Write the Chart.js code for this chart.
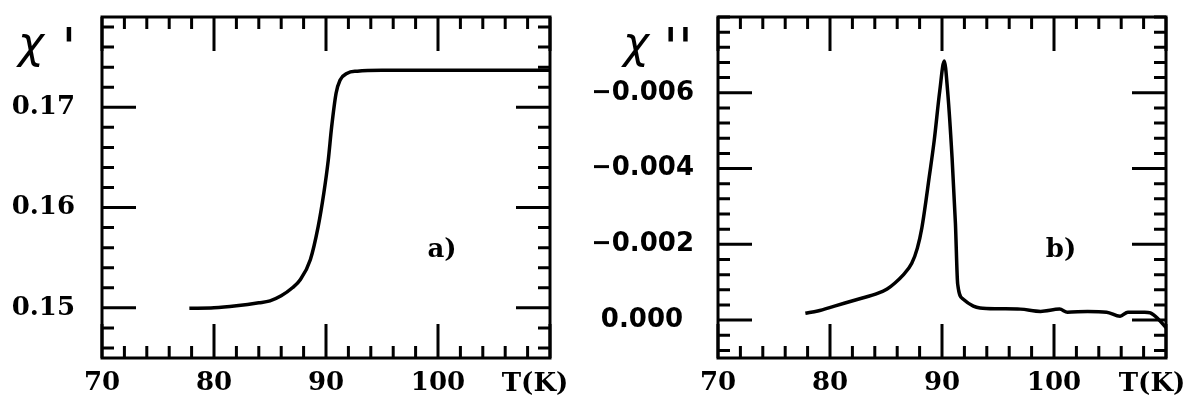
<!DOCTYPE html>
<html>
<head>
<meta charset="utf-8">
<script src="https://cdn.jsdelivr.net/npm/chart.js@4.4.1/dist/chart.umd.min.js"></script>
<style>
  body { margin: 0; background: #fff; }
  #wrap { position: relative; width: 1188px; height: 405px; }
  .panel { position: absolute; top: 0; width: 594px; height: 405px; }
</style>
</head>
<body>
<div id="wrap">
  <div class="panel" style="left:0"><canvas id="realChart" width="594" height="405"></canvas></div>
  <div class="panel" style="left:594px"><canvas id="imagChart" width="594" height="405"></canvas></div>
</div>
<script>
// a) real part chi' vs temperature
const tempA = [77.8, 80, 82, 84, 85, 86, 87, 87.7, 88.6, 89.3, 89.8, 90.2, 90.5, 90.9, 91.25, 91.9, 92.8, 95, 100, 105, 110];
const chiReal = [0.14995, 0.1500, 0.1502, 0.1505, 0.1507, 0.1512, 0.1520, 0.1528, 0.1548, 0.1581, 0.1614, 0.1647, 0.1680, 0.1714, 0.1727, 0.1734, 0.1736, 0.1737, 0.1737, 0.1737, 0.1737];

// b) imaginary part chi'' vs temperature
const tempB = [77.8, 78.9, 80.4, 82.5, 84.3, 85.1, 85.8, 86.5, 87.3, 87.8, 88.2, 88.9, 89.3, 89.8, 90.2, 90.5, 90.9, 91.2, 91.4, 91.9, 92.8, 93.4, 95, 97, 98.8, 100.5, 101.2, 103, 104.7, 105.9, 106.6, 108.1, 108.6, 109.3, 110];
const chiImag = [-0.00018, -0.00024, -0.00037, -0.00055, -0.00071, -0.00082, -0.00098, -0.00118, -0.00150, -0.00190, -0.00243, -0.00386, -0.00473, -0.00605, -0.00684, -0.00605, -0.00428, -0.00254, -0.00095, -0.00055, -0.00037, -0.00032, -0.00030, -0.00029, -0.00023, -0.00029, -0.00021, -0.00023, -0.00021, -0.00010, -0.00021, -0.00021, -0.00019, -0.00003, 0.00020];

// axis ticks and labels
const xTicks = [70, 80, 90, 100, 110];
const xLabels = ['70', '80', '90', '100', ''];
const yTicksA = [0.15, 0.16, 0.17];
const yLabelsA = ['0.15', '0.16', '0.17'];
const yTicksB = [-0.006, -0.004, -0.002, 0];
const yLabelsB = ['\u22120.006', '\u22120.004', '\u22120.002', '0.000'];

const serifBold = '"DejaVu Serif", serif';
const sansBold = '"DejaVu Sans", sans-serif';

// frame with inward major/minor ticks on all four sides, plus the loose texts
function frameTicks(xMinor, yMajor, yMinor, texts) {
    return {
        id: 'frameTicks',
        afterDraw(chart) {
            const { ctx, chartArea: a, scales } = chart;
            const xs = scales.x, ys = scales.y;
            ctx.save();
            ctx.strokeStyle = '#000';
            ctx.lineWidth = 3;
            ctx.lineCap = 'butt';
            ctx.beginPath();
            xMinor.forEach(v => {
                const len = xTicks.includes(v) ? 34 : 12;
                const px = xs.getPixelForValue(v);
                ctx.moveTo(px, a.bottom); ctx.lineTo(px, a.bottom - len);
                ctx.moveTo(px, a.top); ctx.lineTo(px, a.top + len);
            });
            yMinor.forEach(v => {
                const len = yMajor.some(m => Math.abs(m - v) < 1e-9) ? 34 : 12;
                const py = ys.getPixelForValue(v);
                ctx.moveTo(a.left, py); ctx.lineTo(a.left + len, py);
                ctx.moveTo(a.right, py); ctx.lineTo(a.right - len, py);
            });
            ctx.stroke();
            ctx.strokeRect(a.left, a.top, a.right - a.left, a.bottom - a.top);

            ctx.fillStyle = '#000';
            texts.forEach(t => {
                ctx.font = t.font;
                ctx.textAlign = t.align || 'center';
                ctx.textBaseline = t.baseline || 'middle';
                ctx.fillText(t.text, t.x, t.y);
            });
            ctx.restore();
        }
    };
}

function minorValues(kFrom, kTo, step) {
    const out = [];
    for (let k = kFrom; k <= kTo; k++) out.push(+(k * step).toFixed(6));
    return out;
}

const xMinorVals = minorValues(35, 55, 2);

function makeChart(id, temps, vals, yOpts, yWidth, padRight, plugin) {
    return new Chart(document.getElementById(id), {
        type: 'line',
        data: {
            datasets: [{
                data: temps.map((t, i) => ({ x: t, y: vals[i] })),
                borderColor: '#000',
                borderWidth: 3.5,
                pointRadius: 0,
                fill: false,
                cubicInterpolationMode: 'monotone'
            }]
        },
        options: {
            responsive: false,
            animation: false,
            layout: { padding: { top: 17, right: padRight, left: 0, bottom: 0 } },
            plugins: { legend: { display: false }, tooltip: { enabled: false } },
            scales: {
                x: {
                    type: 'linear',
                    min: 70,
                    max: 110,
                    grid: { display: false, drawTicks: false },
                    border: { display: false },
                    afterBuildTicks: s => { s.ticks = xTicks.map(v => ({ value: v })); },
                    afterFit: s => {
                        s.height = 47;
                        s.paddingLeft = 0;
                        s.paddingRight = 0;
                    },
                    ticks: {
                        autoSkip: false,
                        maxRotation: 0,
                        padding: 10,
                        color: '#000',
                        font: { family: serifBold, size: 26, weight: 'bold' },
                        callback: (v, i) => xLabels[i]
                    }
                },
                y: Object.assign({
                    grid: { display: false, drawTicks: false },
                    border: { display: false },
                    afterFit: s => {
                        s.width = yWidth;
                        // labels sit well inside the frame, no extra room needed
                        s.paddingTop = 0;
                        s.paddingBottom = 0;
                    }
                }, yOpts)
            }
        },
        plugins: [plugin]
    });
}

makeChart('realChart', tempA, chiReal, {
    min: 0.145,
    max: 0.179,
    afterBuildTicks: s => { s.ticks = yTicksA.map(v => ({ value: v })); },
    ticks: {
        autoSkip: false,
        padding: 27,
        crossAlign: 'center',
        color: '#000',
        font: { family: serifBold, size: 26, weight: 'bold' },
        callback: (v, i) => yLabelsA[i]
    }
}, 102, 44, frameTicks(xMinorVals, yTicksA, minorValues(73, 89, 0.002), [
    { text: '\u03c7', x: 31, y: 58, font: 'italic 44px "DejaVu Sans"', baseline: 'alphabetic' },
    { text: "'", x: 69, y: 66, font: 'italic 54px "DejaVu Sans"', baseline: 'alphabetic' },
    { text: 'a)', x: 442, y: 250, font: 'bold 26px ' + serifBold },
    { text: 'T(K)', x: 535, y: 384, font: 'bold 26px ' + serifBold }
]));

makeChart('imagChart', tempB, chiImag, {
    min: -0.008,
    max: 0.001,
    reverse: true,
    afterBuildTicks: s => { s.ticks = yTicksB.map(v => ({ value: v })); },
    ticks: {
        autoSkip: false,
        padding: 24,
        crossAlign: 'center',
        color: '#000',
        font: { family: sansBold, size: 26, weight: 'bold' },
        callback: (v, i) => yLabelsB[i]
    }
}, 124, 22, frameTicks(xMinorVals, yTicksB, minorValues(-20, 2, 0.0004), [
    { text: '\u03c7', x: 42, y: 58, font: 'italic 44px "DejaVu Sans"', baseline: 'alphabetic' },
    { text: "''", x: 84, y: 66, font: 'italic 54px "DejaVu Sans"', baseline: 'alphabetic' },
    { text: 'b)', x: 467, y: 250, font: 'bold 26px ' + serifBold },
    { text: 'T(K)', x: 558, y: 384, font: 'bold 26px ' + serifBold }
]));
</script>
</body>
</html>
